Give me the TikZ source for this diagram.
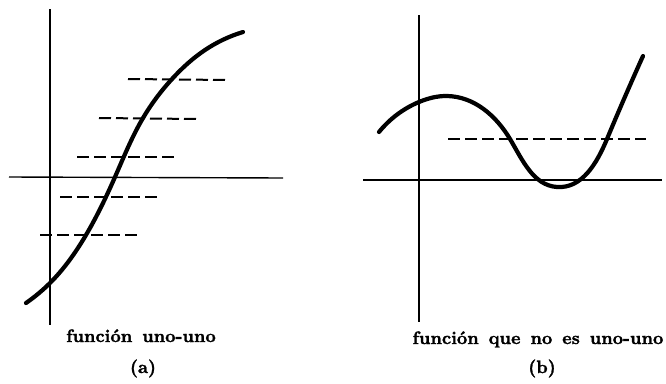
\documentclass[tikz,border=0pt]{standalone}
\usepackage{fontspec}
\newfontfamily\labfont{lmroman10-bold.otf}[FakeBold=1.5]
\newcommand\labsetup{\labfont\fontsize{18}{20}\selectfont\spaceskip=0.55em plus 0pt minus 0pt\relax}
\usetikzlibrary{hobby}
\begin{document}
\begin{tikzpicture}[x=1pt,y=-1pt,
  axis/.style={line width=1.4pt},
  curve/.style={line width=4.2pt,line cap=round},
  dashline/.style={line width=2pt,dash pattern=on 12pt off 5pt},
  lab/.style={font=\labsetup,inner sep=0pt,anchor=base}]
\useasboundingbox (0,0) rectangle (666,383);
% (a)
\draw[axis] (50,9) -- (50,325);
\draw[axis] (9,177) -- (283,178);
\draw[dashline] (128,79) -- (228,80);
\draw[dashline] (99,118) -- (197,119);
\draw[dashline] (77,157) -- (177,157);
\draw[dashline] (60,197) -- (160,197);
\draw[dashline] (40,235) -- (138,235);
\draw[curve] (26,303) to[curve through={(50,283) (86,235) (115,177) (143,118) (172,79) (205,50)}] (243,32);
\node[lab] (la) at (141,342) {función uno-uno};
\node[lab] (pa) at (143,373) {(a)};
% (b)
\draw[axis] (419,15) -- (419,322);
\draw[axis] (363,180) -- (662,180);
\draw[dashline] (448,139) -- (646,139);
\draw[curve] (379,132) to[curve through={(419,102) (447,96) (510,139) (557,187) (607,139)}] (643,56);
\node[lab] (lb) at (538,344) {función que no es uno-uno};
\node[lab] (pb) at (542,373) {(b)};
\end{tikzpicture}
\end{document}
